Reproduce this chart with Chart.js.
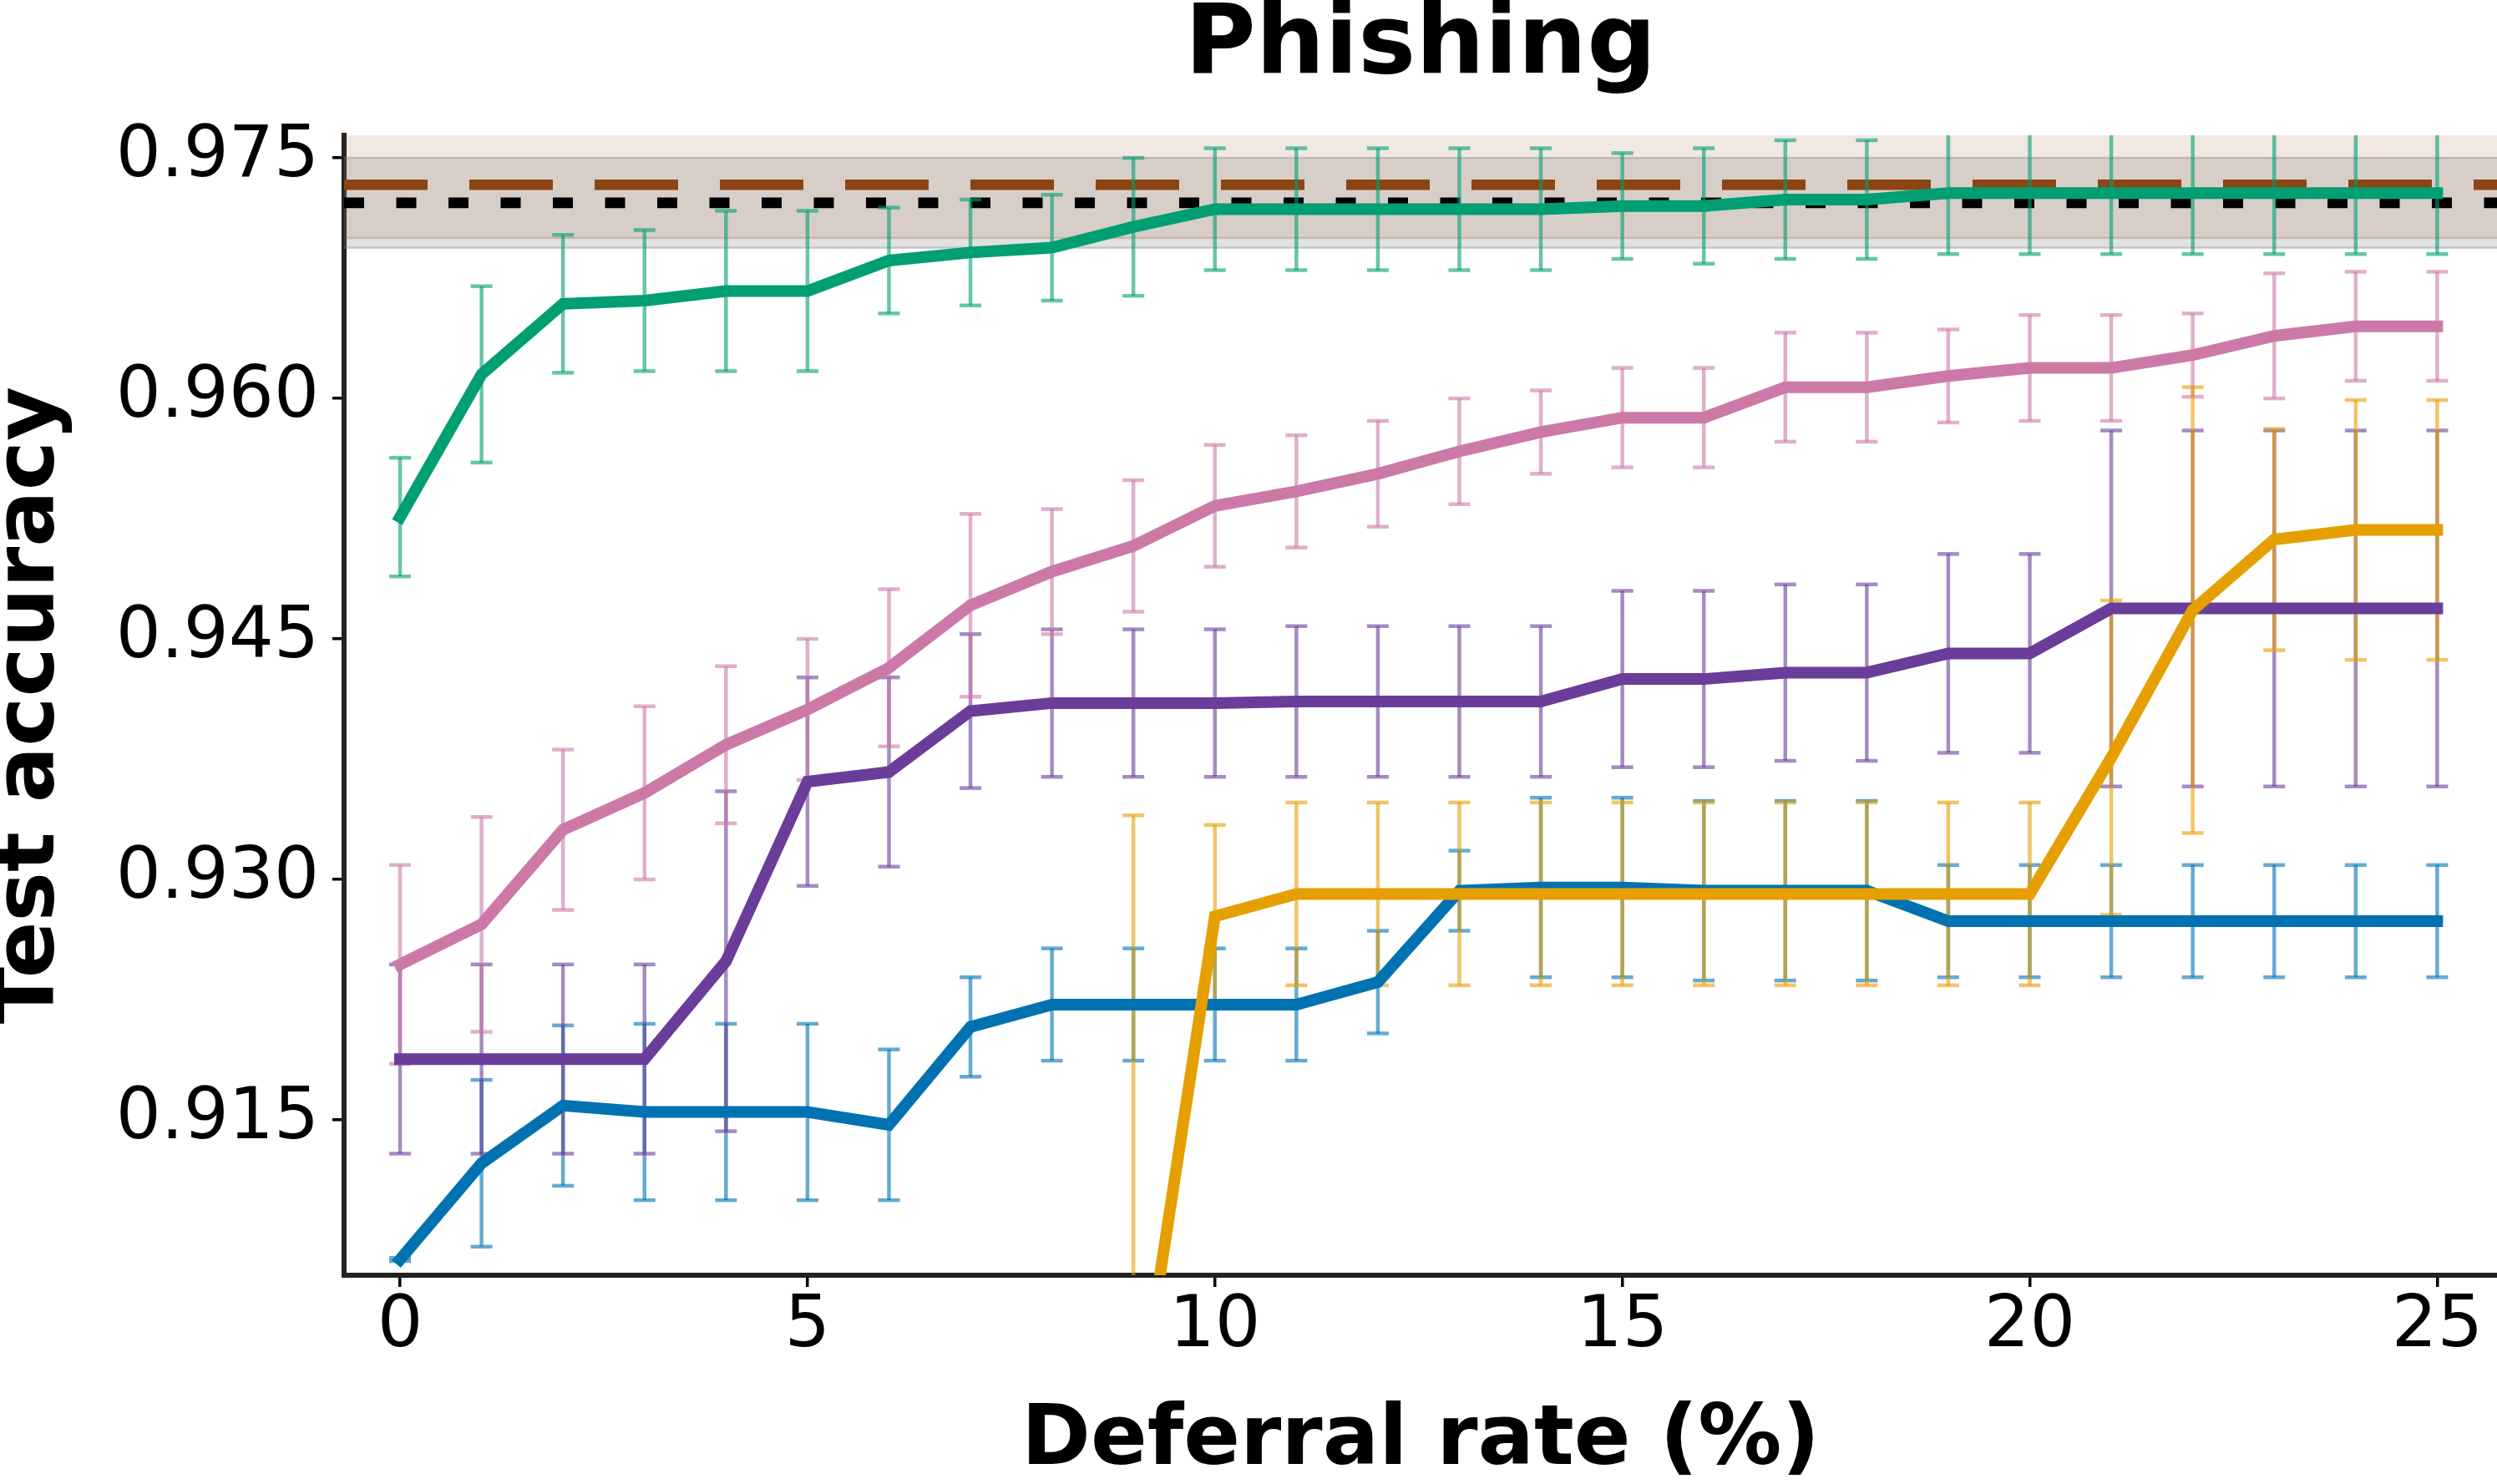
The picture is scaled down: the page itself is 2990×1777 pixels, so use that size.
<!DOCTYPE html>
<html>
<head>
<meta charset="utf-8">
<title>Phishing</title>
<script src="https://cdn.jsdelivr.net/npm/chart.js@4.4.0/dist/chart.umd.min.js"></script>
<style>
    html, body { margin: 0; padding: 0; background: #fff; }
    #wrap { width: 2990px; height: 1777px; }
</style>
</head>
<body>
<div id="wrap"><canvas id="accChart" width="2990" height="1777"></canvas></div>
<script>
// Data
const deferralRates = [0, 1, 2, 3, 4, 5, 6, 7, 8, 9, 10, 11, 12, 13, 14, 15, 16, 17, 18, 19, 20, 21, 22, 23, 24, 25];
const xTicks = [0, 5, 10, 15, 20, 25];
const yTicks = [0.915, 0.930, 0.945, 0.960, 0.975];

const blueAcc = [0.9063, 0.9123, 0.9159, 0.9155, 0.9155, 0.9155, 0.9147, 0.9208, 0.9222, 0.9222, 0.9222, 0.9222, 0.9236,
    0.9293, 0.9295, 0.9295, 0.9293, 0.9293, 0.9293, 0.9274, 0.9274, 0.9274, 0.9274, 0.9274, 0.9274, 0.9274];
const blueErr = [0.0001, 0.0052, 0.0050, 0.0055, 0.0055, 0.0055, 0.0047, 0.0031, 0.0035, 0.0035, 0.0035, 0.0035, 0.0032,
    0.0025, 0.0056, 0.0056, 0.0056, 0.0056, 0.0056, 0.0035, 0.0035, 0.0035, 0.0035, 0.0035, 0.0035, 0.0035];

const purpleAcc = [0.9188, 0.9188, 0.9188, 0.9188, 0.9249, 0.9361, 0.9367, 0.9405, 0.9410, 0.9410, 0.9410, 0.9411, 0.9411,
    0.9411, 0.9411, 0.9425, 0.9425, 0.9429, 0.9429, 0.9441, 0.9441, 0.9469, 0.9469, 0.9469, 0.9469, 0.9469];
const purpleErr = [0.0059, 0.0059, 0.0059, 0.0059, 0.0106, 0.0065, 0.0059, 0.0048, 0.0046, 0.0046, 0.0046, 0.0047, 0.0047,
    0.0047, 0.0047, 0.0055, 0.0055, 0.0055, 0.0055, 0.0062, 0.0062, 0.0111, 0.0111, 0.0111, 0.0111, 0.0111];

const pinkAcc = [0.9247, 0.9272, 0.9331, 0.9354, 0.9384, 0.9406, 0.9432, 0.9471, 0.9492, 0.9508, 0.9533, 0.9542, 0.9553,
    0.9567, 0.9579, 0.9588, 0.9588, 0.9607, 0.9607, 0.9614, 0.9619, 0.9619, 0.9627, 0.9639, 0.9645, 0.9645];
const pinkErr = [0.0062, 0.0067, 0.0050, 0.0054, 0.0049, 0.0044, 0.0049, 0.0057, 0.0039, 0.0041, 0.0038, 0.0035, 0.0033,
    0.0033, 0.0026, 0.0031, 0.0031, 0.0034, 0.0034, 0.0029, 0.0033, 0.0033, 0.0026, 0.0039, 0.0034, 0.0034];

const greenAcc = [0.9526, 0.9615, 0.9659, 0.9661, 0.9667, 0.9667, 0.9686, 0.9691, 0.9694, 0.9707, 0.9718, 0.9718, 0.9718,
    0.9718, 0.9718, 0.9720, 0.9720, 0.9724, 0.9724, 0.9728, 0.9728, 0.9728, 0.9728, 0.9728, 0.9728, 0.9728];
const greenErr = [0.0037, 0.0055, 0.0043, 0.0044, 0.0050, 0.0050, 0.0033, 0.0033, 0.0033, 0.0043, 0.0038, 0.0038, 0.0038,
    0.0038, 0.0038, 0.0033, 0.0036, 0.0037, 0.0037, 0.0038, 0.0038, 0.0038, 0.0038, 0.0038, 0.0038, 0.0038];

// below the axis for the first points
const orangeAcc = [null, null, null, null, null, null, null, null, null, 0.8945, 0.9277, 0.9291, 0.9291,
    0.9291, 0.9291, 0.9291, 0.9291, 0.9291, 0.9291, 0.9291, 0.9291, 0.9376, 0.9468, 0.9512, 0.9518, 0.9518];
const orangeErr = [null, null, null, null, null, null, null, null, null, 0.0395, 0.0057, 0.0057, 0.0057,
    0.0057, 0.0057, 0.0057, 0.0057, 0.0057, 0.0057, 0.0057, 0.0057, 0.0098, 0.0139, 0.0069, 0.0081, 0.0081];

// horizontal references: dashed brown and dotted black, with their bands
const refMeans = [0.97332, 0.97220];
const refStds = [0.00332, 0.00281];

const FONT = 'DejaVu Sans';
Chart.defaults.font.family = FONT;
Chart.defaults.color = '#000';

function points(values) {
    return deferralRates.map((r, i) => ({ x: r, y: values[i] }));
}

function series(values, errs, color, errColor) {
    return {
        data: points(values),
        errors: errs,
        errColor: errColor,
        borderColor: color,
        backgroundColor: color,
        borderWidth: 14,
        borderCapStyle: 'square',
        borderJoinStyle: 'miter',
        pointRadius: 0,
        tension: 0,
        fill: false,
        clip: 0
    };
}

// bands, reference lines and error bars, drawn under the lines
const backdropPlugin = {
    id: 'backdrop',
    beforeDatasetsDraw(chart) {
        const { ctx, chartArea: area, scales: { x, y } } = chart;
        ctx.save();
        ctx.beginPath();
        ctx.rect(area.left, area.top, area.right - area.left, area.bottom - area.top);
        ctx.clip();

        // grey band first, tan band over it
        const bandFill = ['rgba(139,69,19,0.12)', 'rgba(128,128,128,0.24)'];
        const bandEdge = ['rgba(139,69,19,0.22)', 'rgba(128,128,128,0.35)'];
        [1, 0].forEach(i => {
            const top = y.getPixelForValue(refMeans[i] + refStds[i]);
            const bot = y.getPixelForValue(refMeans[i] - refStds[i]);
            ctx.fillStyle = bandFill[i];
            ctx.fillRect(area.left, top, area.right - area.left, bot - top);
            ctx.strokeStyle = bandEdge[i];
            ctx.lineWidth = 2.5;
            ctx.beginPath();
            ctx.moveTo(area.left, top); ctx.lineTo(area.right, top);
            ctx.moveTo(area.left, bot); ctx.lineTo(area.right, bot);
            ctx.stroke();
        });

        // reference lines
        const refStyle = [
            { color: '#8B4513', width: 12.5, dash: [100, 50] },
            { color: '#000000', width: 12.7, dash: [24, 38.5] }
        ];
        refMeans.forEach((m, i) => {
            const py = y.getPixelForValue(m);
            ctx.strokeStyle = refStyle[i].color;
            ctx.lineWidth = refStyle[i].width;
            ctx.lineCap = 'butt';
            ctx.setLineDash(refStyle[i].dash);
            ctx.beginPath();
            ctx.moveTo(area.left, py);
            ctx.lineTo(area.right, py);
            ctx.stroke();
        });
        ctx.setLineDash([]);

        // error bars, bottom dataset first
        const ds = chart.data.datasets;
        for (let k = ds.length - 1; k >= 0; k--) {
            const d = ds[k];
            ctx.strokeStyle = d.errColor;
            ctx.lineWidth = 4.5;
            d.data.forEach((p, i) => {
                const e = d.errors[i];
                if (p.y === null || e === null) return;
                const px = x.getPixelForValue(p.x);
                const yHi = y.getPixelForValue(p.y + e);
                const yLo = y.getPixelForValue(p.y - e);
                ctx.beginPath();
                ctx.moveTo(px, yHi); ctx.lineTo(px, yLo);
                ctx.stroke();
                ctx.beginPath();
                ctx.moveTo(px - 13, yHi); ctx.lineTo(px + 13, yHi);
                ctx.stroke();
                ctx.beginPath();
                ctx.moveTo(px - 13, yLo); ctx.lineTo(px + 13, yLo);
                ctx.stroke();
            });
        }
        ctx.restore();
    }
};

const ctx = document.getElementById('accChart').getContext('2d');
new Chart(ctx, {
    type: 'line',
    data: {
        datasets: [
            series(orangeAcc, orangeErr, '#E69F00', 'rgba(230,159,0,0.6)'),
            series(greenAcc, greenErr, '#009E73', 'rgba(0,158,115,0.6)'),
            series(pinkAcc, pinkErr, '#CC79A7', 'rgba(204,121,167,0.6)'),
            series(purpleAcc, purpleErr, '#6A3D9A', 'rgba(106,61,154,0.6)'),
            series(blueAcc, blueErr, '#0072B2', 'rgba(0,114,178,0.6)')
        ]
    },
    options: {
        responsive: false,
        animation: false,
        devicePixelRatio: 1,
        events: [],
        layout: { padding: 0 },
        scales: {
            x: {
                type: 'linear',
                min: -0.687,
                max: 25.734,
                afterBuildTicks: scale => { scale.ticks = xTicks.map(v => ({ value: v })); },
                afterFit: scale => { scale.height = 250; },
                ticks: {
                    autoSkip: false,
                    maxRotation: 0,
                    padding: 6,
                    color: '#000',
                    font: { size: 86, lineHeight: 1 },
                    callback: v => String(v)
                },
                grid: {
                    drawOnChartArea: false,
                    drawTicks: true,
                    tickLength: 14,
                    tickWidth: 3.5,
                    lineWidth: 3.5,
                    tickColor: '#000'
                },
                border: { display: true, color: '#222', width: 6 },
                title: {
                    display: true,
                    text: 'Deferral rate (%)',
                    color: '#000',
                    font: { size: 100, weight: 'bold', lineHeight: 1 },
                    padding: { top: 0, bottom: 0 }
                }
            },
            y: {
                type: 'linear',
                min: 0.90532,
                max: 0.97641,
                afterBuildTicks: scale => { scale.ticks = yTicks.map(v => ({ value: v })); },
                afterFit: scale => { scale.width = 412; },
                ticks: {
                    autoSkip: false,
                    padding: 16,
                    color: '#000',
                    font: { size: 85, lineHeight: 1 },
                    callback: v => v.toFixed(3)
                },
                grid: {
                    drawOnChartArea: false,
                    drawTicks: true,
                    tickLength: 14,
                    tickWidth: 3.5,
                    lineWidth: 3.5,
                    tickColor: '#000'
                },
                border: { display: true, color: '#222', width: 6 },
                title: {
                    display: true,
                    text: 'Test accuracy',
                    color: '#000',
                    font: { size: 100, weight: 'bold', lineHeight: 0.7 },
                    padding: { top: 3.5, bottom: 0 }
                }
            }
        },
        plugins: {
            legend: { display: false },
            tooltip: { enabled: false },
            title: {
                display: true,
                text: 'Phishing',
                fullSize: false,
                color: '#000',
                font: { size: 116, weight: 'bold', lineHeight: 0.8 },
                padding: { top: 10, bottom: 59.2 }
            }
        }
    },
    plugins: [backdropPlugin]
});
</script>
</body>
</html>
